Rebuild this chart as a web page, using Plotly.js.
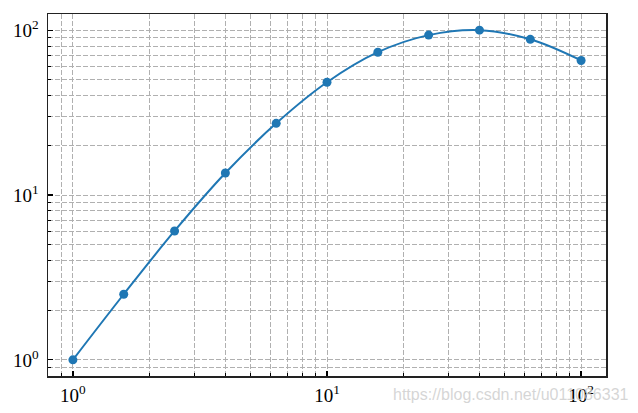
<!DOCTYPE html>
<html>
<head>
<meta charset="utf-8">
<script src="https://cdn.plot.ly/plotly-3.0.1.min.js"></script>
<style>html,body{margin:0;padding:0;background:#fff}#chart{width:638px;height:413px}</style>
</head>
<body>
<div id="chart"></div>
<script>
const xValues = [1, 1.585, 2.512, 3.981, 6.310, 10, 15.85, 25.12, 39.81, 63.10, 100];
const yValues = [1, 2.5, 6.05, 13.6, 27.2, 48.3, 73.5, 93.3, 100, 88, 65.5];
const majorTickVals = [1, 10, 100];
const majorTickText = ['10<sup>0</sup>', '10<sup>1</sup>', '10<sup>2</sup>'];
const minorTickVals = [0.8, 0.9, 2, 3, 4, 5, 6, 7, 8, 9, 20, 30, 40, 50, 60, 70, 80, 90];
const watermarkText = 'https://blog.csdn.net/u011086331';

const serif = '"Liberation Serif", "Times New Roman", Times, serif';
const gridStyle = {color: '#b0b0b0', width: 1, dash: '5px,2px'};

function axis(range) {
  return {
    type: 'log',
    range: range,
    tickmode: 'array',
    tickvals: majorTickVals,
    ticktext: majorTickText,
    ticks: 'inside',
    ticklen: 5,
    tickwidth: 1.2,
    tickcolor: '#000',
    showgrid: true,
    gridcolor: gridStyle.color,
    gridwidth: gridStyle.width,
    griddash: gridStyle.dash,
    minor: {
      tickmode: 'array',
      tickvals: minorTickVals,
      ticks: 'inside',
      ticklen: 3,
      tickwidth: 1,
      tickcolor: '#000',
      showgrid: true,
      gridcolor: gridStyle.color,
      gridwidth: gridStyle.width,
      griddash: gridStyle.dash
    },
    showline: true,
    linecolor: '#222',
    linewidth: 1.5,
    mirror: true,
    zeroline: false,
    tickfont: {family: serif, size: 19, color: '#000'}
  };
}

const trace = {
  x: xValues,
  y: yValues,
  mode: 'lines+markers',
  line: {color: '#1f77b4', width: 2, shape: 'spline', smoothing: 1},
  marker: {color: '#1f77b4', size: 9},
  hoverinfo: 'skip'
};

const layout = {
  width: 638,
  height: 413,
  margin: {l: 48, r: 32, t: 14, b: 37},
  paper_bgcolor: '#fff',
  plot_bgcolor: '#fff',
  showlegend: false,
  font: {family: serif, size: 19, color: '#000'},
  xaxis: Object.assign(axis([-0.098, 2.098]), {ticklabelstandoff: 2}),
  yaxis: Object.assign(axis([-0.098, 2.098]), {ticklabelstandoff: 4}),
  annotations: [{
    text: watermarkText,
    xref: 'paper', yref: 'paper',
    x: 1, y: 0,
    xanchor: 'right', yanchor: 'middle',
    xshift: 25, yshift: -18,
    showarrow: false,
    font: {family: '"Liberation Sans", Arial, sans-serif', size: 16, color: 'rgba(200,200,200,0.75)'}
  }]
};

Plotly.newPlot('chart', [trace], layout, {staticPlot: true, displayModeBar: false});
</script>
</body>
</html>
